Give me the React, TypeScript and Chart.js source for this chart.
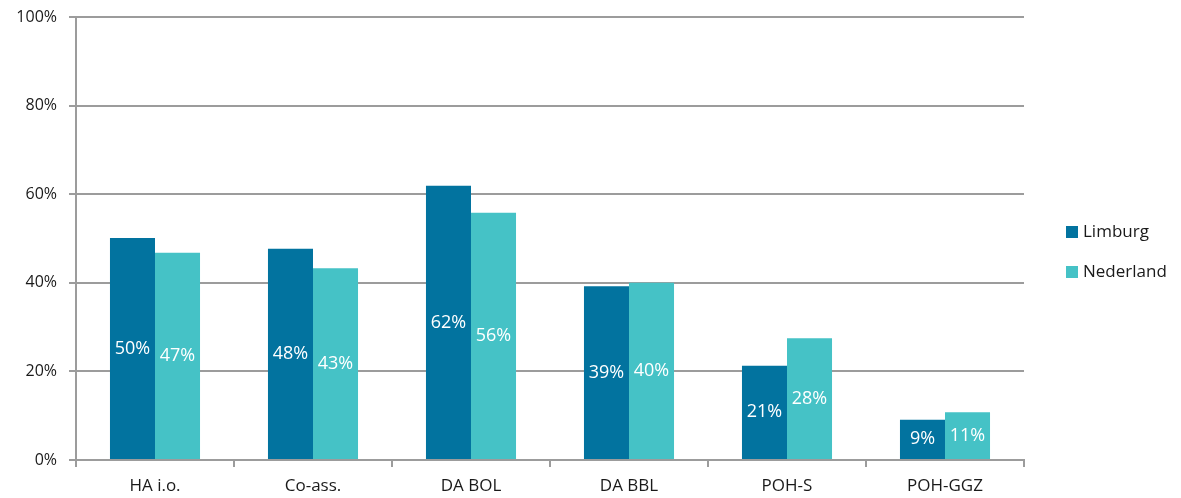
import React, { useEffect, useRef } from "react";
import { Chart, registerables } from "chart.js";

Chart.register(...registerables);

const categories = ["HA i.o.", "Co-ass.", "DA BOL", "DA BBL", "POH-S", "POH-GGZ"];
const limburg = [50.1, 47.7, 61.9, 39.2, 21.3, 9.1];
const nederland = [46.8, 43.3, 55.8, 40.0, 27.5, 10.8];
const seriesNames = ["Limburg", "Nederland"];
const seriesColors = ["#02739F", "#45C2C6"];
const yTicks = [0, 20, 40, 60, 80, 100];

const FONT = "'Open Sans', 'Noto Sans', sans-serif";
const GRID = "#9c9c9c";
const TEXT = "#1a1a1a";

const valueLabels = {
  id: "valueLabels",
  afterDatasetsDraw(chart: any) {
    const ctx = chart.ctx;
    ctx.save();
    ctx.fillStyle = "#ffffff";
    ctx.font = `18px ${FONT}`;
    ctx.textAlign = "center";
    ctx.textBaseline = "middle";
    chart.data.datasets.forEach((ds: any, i: number) => {
      const meta = chart.getDatasetMeta(i);
      meta.data.forEach((bar: any, j: number) => {
        const v = ds.data[j];
        const y = (bar.y + bar.base) / 2;
        ctx.fillText(Math.round(v) + "%", bar.x, y);
      });
    });
    ctx.restore();
  },
};

const customLegend = {
  id: "customLegend",
  afterDraw(chart: any) {
    const ctx = chart.ctx;
    ctx.save();
    ctx.font = `17px ${FONT}`;
    ctx.textAlign = "left";
    ctx.textBaseline = "middle";
    const x = chart.chartArea.right + 42;
    const yStart = 232;
    chart.data.datasets.forEach((ds: any, i: number) => {
      const y = yStart + i * 40;
      ctx.fillStyle = ds.backgroundColor;
      ctx.fillRect(x, y - 6, 12, 12);
      ctx.fillStyle = TEXT;
      ctx.fillText(ds.label, x + 17, y);
    });
    ctx.restore();
  },
};

export default function App() {
  const ref = useRef<HTMLCanvasElement>(null);
  useEffect(() => {
    if (!ref.current) return;
    const chart = new Chart(ref.current, {
      type: "bar",
      data: {
        labels: categories,
        datasets: [
          { label: seriesNames[0], data: limburg, backgroundColor: seriesColors[0], barPercentage: 1, categoryPercentage: 0.57 },
          { label: seriesNames[1], data: nederland, backgroundColor: seriesColors[1], barPercentage: 1, categoryPercentage: 0.57 },
        ],
      },
      options: {
        animation: false,
        responsive: true,
        maintainAspectRatio: false,
        layout: { padding: { left: 0, right: 157, top: 17, bottom: 0 } },
        plugins: { legend: { display: false }, tooltip: { enabled: false } },
        scales: {
          x: {
            offset: true,
            grid: {
              display: true,
              offset: true,
              drawOnChartArea: false,
              drawTicks: true,
              tickLength: 7,
              color: GRID,
              lineWidth: 2,
            },
            border: { display: true, color: GRID, width: 2 },
            ticks: { color: TEXT, font: { family: FONT, size: 17 }, padding: 9 },
            afterFit(scale: any) {
              scale.height = 38;
              scale.paddingLeft = 0;
              scale.paddingRight = 0;
            },
          },
          y: {
            min: 0,
            max: 100,
            afterBuildTicks(scale: any) {
              scale.ticks = yTicks.map((v) => ({ value: v }));
            },
            grid: { color: GRID, lineWidth: 2, tickLength: 7, drawTicks: true },
            border: { display: true, color: GRID, width: 2 },
            ticks: {
              color: TEXT,
              font: { family: FONT, size: 16 },
              padding: 12,
              callback: (v: any) => v + "%",
            },
            afterFit(scale: any) {
              scale.width = 76;
              scale.paddingTop = 0;
              scale.paddingBottom = 0;
            },
          },
        },
      },
      plugins: [valueLabels, customLegend],
    });
    return () => chart.destroy();
  }, []);
  return (
    <div style={{ position: "absolute", left: 0, top: 0, width: 1181, height: 498, background: "#fff" }}>
      <canvas ref={ref} />
    </div>
  );
}
